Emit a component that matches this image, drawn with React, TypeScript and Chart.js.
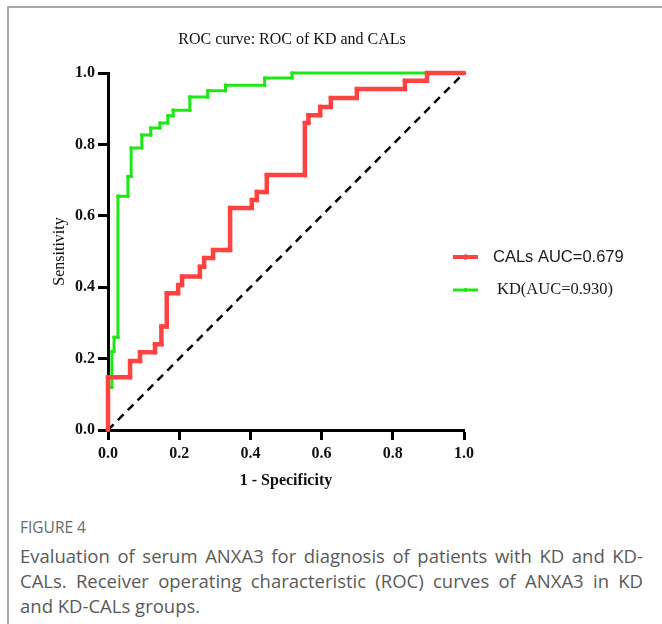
import { useEffect, useRef } from "react";
import { Chart, registerables } from "chart.js";

Chart.register(...registerables);

const titleText = "ROC curve: ROC of KD and CALs";
const xTitle = "1 - Specificity";
const yTitle = "Sensitivity";
const calsLabel = "CALs AUC=0.679";
const kdLabel = "KD(AUC=0.930)";
const figureLabel = "FIGURE 4";
const captionLines = [
  "Evaluation of serum ANXA3 for diagnosis of patients with KD and KD-",
  "CALs. Receiver operating characteristic (ROC) curves of ANXA3 in KD",
  "and KD-CALs groups.",
];

// staircase vertices of the ROC curves (1 - specificity, sensitivity)
const calsFpr = [
  0, 0, 0.062, 0.062, 0.09, 0.09, 0.132, 0.132, 0.15, 0.15, 0.165, 0.165, 0.197, 0.197, 0.208, 0.208,
  0.258, 0.258, 0.27, 0.27, 0.295, 0.295, 0.343, 0.343, 0.404, 0.404, 0.418, 0.418, 0.446, 0.446,
  0.553, 0.553, 0.563, 0.563, 0.596, 0.596, 0.626, 0.626, 0.699, 0.699, 0.834, 0.834, 0.896, 0.896, 1,
];
const calsTpr = [
  0, 0.148, 0.148, 0.193, 0.193, 0.218, 0.218, 0.24, 0.24, 0.29, 0.29, 0.383, 0.383, 0.406, 0.406, 0.43,
  0.43, 0.457, 0.457, 0.482, 0.482, 0.504, 0.504, 0.622, 0.622, 0.644, 0.644, 0.667, 0.667, 0.714,
  0.714, 0.86, 0.86, 0.882, 0.882, 0.905, 0.905, 0.93, 0.93, 0.955, 0.955, 0.978, 0.978, 1, 1,
];
const kdFpr = [
  0, 0, 0.011, 0.011, 0.017, 0.017, 0.028, 0.028, 0.056, 0.056, 0.065, 0.065, 0.095, 0.095, 0.12, 0.12,
  0.146, 0.146, 0.168, 0.168, 0.183, 0.183, 0.23, 0.23, 0.28, 0.28, 0.33, 0.33, 0.44, 0.44, 0.517, 0.517, 1,
];
const kdTpr = [
  0, 0.12, 0.12, 0.22, 0.22, 0.26, 0.26, 0.655, 0.655, 0.71, 0.71, 0.79, 0.79, 0.826, 0.826, 0.846,
  0.846, 0.86, 0.86, 0.88, 0.88, 0.896, 0.896, 0.933, 0.933, 0.95, 0.95, 0.966, 0.966, 0.986, 0.986, 1, 1,
];
const refFpr = [0, 1];
const refTpr = [0, 1];

const RED = "rgb(255,66,66)";
const GREEN = "rgb(30,232,20)";
const SERIF = "'Liberation Serif', 'Times New Roman', serif";
const SANS = "'Liberation Sans', Arial, sans-serif";

export default function App() {
  const ref = useRef<HTMLCanvasElement>(null);

  useEffect(() => {
    const canvas = ref.current;
    if (!canvas) return;

    const overlay = {
      id: "overlay",
      afterDraw(chart: any) {
        const { ctx, chartArea: ca } = chart;
        ctx.save();
        // title
        ctx.fillStyle = "#111";
        ctx.font = `16px ${SERIF}`;
        ctx.textAlign = "center";
        ctx.textBaseline = "middle";
        ctx.fillText(titleText, (ca.left + ca.right) / 2 + 6, 40);

        // legend
        const items = [
          { label: calsLabel, color: RED, width: 4, y: ca.top + 184, x: ca.right + 29, font: `16.5px ${SANS}` },
          { label: kdLabel, color: GREEN, width: 3, y: ca.top + 217, x: ca.right + 33, font: `16.5px ${SERIF}` },
        ];
        items.forEach((it) => {
          ctx.strokeStyle = it.color;
          ctx.lineWidth = it.width;
          ctx.beginPath();
          ctx.moveTo(ca.right - 11, it.y);
          ctx.lineTo(ca.right + 14, it.y);
          ctx.stroke();
          ctx.fillStyle = it.color;
          ctx.beginPath();
          ctx.arc(ca.right + 1.5, it.y, it.width * 0.7, 0, Math.PI * 2);
          ctx.fill();
          ctx.fillStyle = "#1a1a1a";
          ctx.font = it.font;
          ctx.textAlign = "left";
          ctx.textBaseline = "middle";
          ctx.fillText(it.label, it.x, it.y);
        });
        ctx.restore();
      },
    };

    const tickFont = { family: SERIF, size: 16, weight: "bold" as const };

    const chart = new Chart(canvas, {
      type: "line",
      data: {
        datasets: [
          {
            label: calsLabel,
            data: calsFpr.map((x, i) => ({ x, y: calsTpr[i] })),
            borderColor: RED,
            backgroundColor: RED,
            borderWidth: 4.5,
            pointRadius: 2.3,
            pointBorderWidth: 0,
            pointHoverRadius: 0,
            order: 1,
            clip: 10,
          },
          {
            label: kdLabel,
            data: kdFpr.map((x, i) => ({ x, y: kdTpr[i] })),
            borderColor: GREEN,
            backgroundColor: GREEN,
            borderWidth: 3,
            pointRadius: 1.8,
            pointBorderWidth: 0,
            pointHoverRadius: 0,
            order: 2,
            clip: 10,
          },
          {
            label: "reference",
            data: refFpr.map((x, i) => ({ x, y: refTpr[i] })),
            borderColor: "#000",
            borderWidth: 2.5,
            borderDash: [8, 6],
            pointRadius: 0,
            order: 3,
            clip: 10,
          },
        ],
      },
      options: {
        animation: false,
        responsive: false,
        events: [],
        layout: { padding: { top: 73, right: 198, bottom: 0, left: 0 } },
        plugins: {
          legend: { display: false },
          tooltip: { enabled: false },
          title: { display: false },
        },
        scales: {
          x: {
            type: "linear",
            min: 0,
            max: 1,
            afterFit(s: any) {
              s.height = 70;
            },
            ticks: {
              stepSize: 0.2,
              callback: (v: any) => Number(v).toFixed(1),
              color: "#111",
              font: tickFont,
              padding: 4,
              maxRotation: 0,
              autoSkip: false,
            },
            grid: {
              drawOnChartArea: false,
              drawTicks: true,
              tickLength: 10,
              tickWidth: 3,
              tickColor: "#000",
            },
            border: { display: true, width: 3, color: "#000" },
            title: {
              display: true,
              text: xTitle,
              color: "#111",
              font: { family: SERIF, size: 16, weight: "bold" },
              padding: { top: 0, bottom: 10 },
            },
          },
          y: {
            type: "linear",
            min: 0,
            max: 1,
            afterFit(s: any) {
              s.width = 108;
            },
            ticks: {
              stepSize: 0.2,
              callback: (v: any) => Number(v).toFixed(1),
              color: "#111",
              font: tickFont,
              padding: 3,
              autoSkip: false,
            },
            grid: {
              drawOnChartArea: false,
              drawTicks: true,
              tickLength: 10,
              tickWidth: 3,
              tickColor: "#000",
            },
            border: { display: true, width: 3, color: "#000" },
            title: {
              display: true,
              text: yTitle,
              color: "#111",
              font: { family: SERIF, size: 16 },
              padding: { top: 50, bottom: 0 },
            },
          },
        },
      },
      plugins: [overlay],
    });

    return () => chart.destroy();
  }, []);

  return (
    <div
      style={{
        position: "absolute",
        left: 0,
        top: 0,
        width: 662,
        height: 624,
        overflow: "hidden",
        background: "#fff",
      }}
    >
      <div
        style={{
          position: "absolute",
          left: 7,
          top: 6,
          right: -10,
          bottom: -10,
          borderTop: "2px solid #a9a9a9",
          borderLeft: "2px solid #a9a9a9",
        }}
      />
      <canvas
        ref={ref}
        width={662}
        height={500}
        style={{ position: "absolute", left: 0, top: 0, width: 662, height: 500 }}
      />
      <div
        style={{
          position: "absolute",
          left: 20,
          top: 517,
          fontFamily: "'Open Sans', sans-serif",
          fontSize: 15.5,
          lineHeight: "20px",
          color: "#6a6a6a",
        }}
      >
        {figureLabel}
      </div>
      <div
        style={{
          position: "absolute",
          left: 20,
          top: 543,
          width: 623,
          fontFamily: "'Open Sans', sans-serif",
          fontSize: 18.5,
          lineHeight: "25px",
          color: "#5a5a5a",
        }}
      >
        {captionLines.map((line, i) => (
          <div
            key={i}
            style={{
              whiteSpace: "nowrap",
              textAlign: i < captionLines.length - 1 ? "justify" : "left",
              textAlignLast: i < captionLines.length - 1 ? "justify" : "left",
            }}
          >
            {line}
          </div>
        ))}
      </div>
    </div>
  );
}
